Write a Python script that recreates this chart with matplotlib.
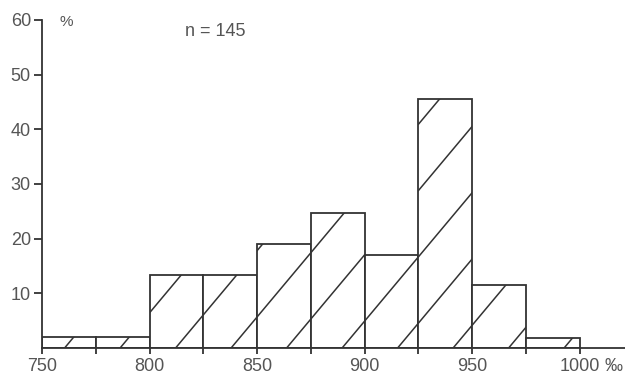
import numpy as np
import matplotlib.pyplot as plt
from matplotlib.patches import Rectangle

plt.rcParams['font.family'] = ['Liberation Sans', 'DejaVu Sans']

# bin edges (per mille) and share of samples in each bin (%)
bin_edges = [750, 775, 800, 825, 850, 875, 900, 925, 950, 975, 1000]
percent = [2, 2, 13.3, 13.3, 19.1, 24.7, 17.1, 45.5, 11.6, 1.8]
x_ticks = [750, 800, 850, 900, 950, 1000]
y_ticks = [10, 20, 30, 40, 50, 60]

ink = '#333333'
txt = '#555555'

fig = plt.figure(figsize=(6.25, 3.77), dpi=100)
ax = fig.add_axes([42 / 625, 29 / 377, 583 / 625, 328 / 377])

# bars with sparse diagonal hatching shared across the whole plot
slope = 0.47
offsets = np.arange(760.5 - 25.8 * 6, 1000, 25.8)
for left, right, h in zip(bin_edges[:-1], bin_edges[1:], percent):
    rect = Rectangle((left, 0), right - left, h, facecolor='white',
                     edgecolor=ink, linewidth=1.3, zorder=2)
    ax.add_patch(rect)
    xs = np.array([left, right])
    for c in offsets:
        line, = ax.plot(xs, slope * (xs - c), color=ink, linewidth=1.1, zorder=3)
        line.set_clip_path(rect)

ax.set_xlim(750, 1021)
ax.set_ylim(0, 60)

for s in ['top', 'right']:
    ax.spines[s].set_visible(False)
ax.spines['left'].set_bounds(0, 60)
for s in ['left', 'bottom']:
    ax.spines[s].set_color(ink)
    ax.spines[s].set_linewidth(1.3)
    ax.spines[s].set_zorder(4)

ax.set_xticks(x_ticks)
ax.set_xticks(bin_edges, minor=True)
ax.set_yticks(y_ticks)
ax.tick_params(axis='x', which='both', direction='out', length=4, width=1.3,
               color=ink, labelsize=13, labelcolor=txt, pad=3)
ax.tick_params(axis='y', direction='out', length=6, width=1.3,
               color=ink, labelsize=13, labelcolor=txt, pad=2)

ax.text(0.03, 0.995, '%', transform=ax.transAxes, fontsize=11, color=txt,
        ha='left', va='center')
ax.text(0.245, 0.965, 'n = 145', transform=ax.transAxes, fontsize=13,
        color=txt, ha='left', va='center')
ax.text(0.995, -0.055, '‰', transform=ax.transAxes, fontsize=13, color=txt,
        ha='right', va='center', clip_on=False)

fig.savefig('out.png', dpi=100)
